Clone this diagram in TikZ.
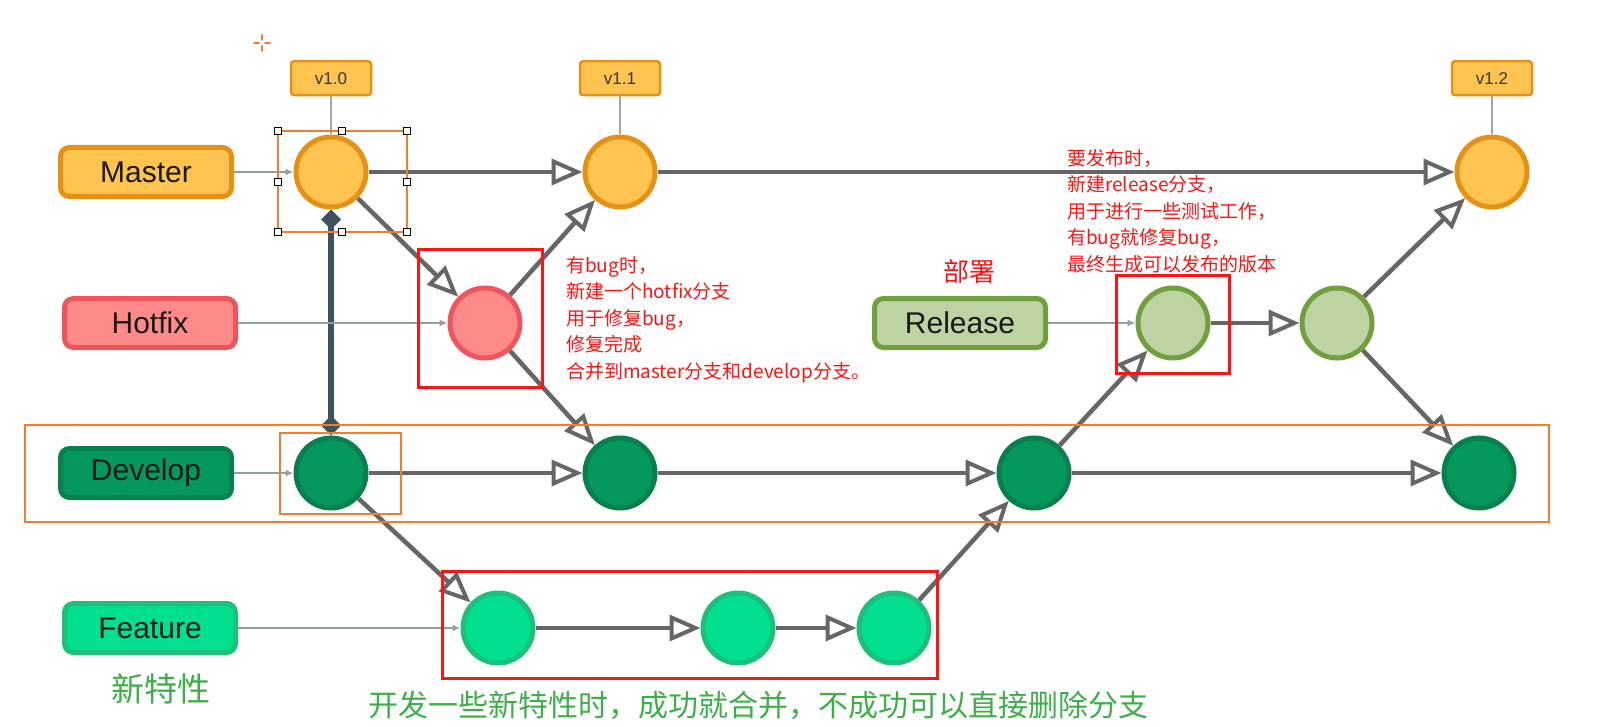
\documentclass[tikz,border=0pt]{standalone}
\usepackage{fontspec}
\setmainfont{Liberation Sans}
\newfontfamily\cjk{Noto Sans CJK SC}
\usepackage{tikz}
\usetikzlibrary{arrows.meta,positioning}

\definecolor{mfill}{RGB}{255,196,79}
\definecolor{mline}{RGB}{228,145,22}
\definecolor{hfill}{RGB}{255,138,138}
\definecolor{hline}{RGB}{240,84,92}
\definecolor{dfill}{RGB}{5,152,92}
\definecolor{dline}{RGB}{8,128,78}
\definecolor{ffill}{RGB}{0,224,142}
\definecolor{fline}{RGB}{28,192,122}
\definecolor{rfill}{RGB}{189,211,161}
\definecolor{rline}{RGB}{112,160,62}
\definecolor{arrgray}{RGB}{102,102,102}
\definecolor{feedgray}{RGB}{145,158,164}
\definecolor{slate}{RGB}{62,84,92}
\definecolor{selorange}{RGB}{240,125,50}
\definecolor{notered}{RGB}{255,20,20}
\definecolor{notegreen}{RGB}{60,175,70}

\begin{document}
\begin{tikzpicture}[x=1pt,y=-1pt,
lbl/.style={draw,rounded corners=9pt,line width=5pt,minimum width=171pt,minimum height=49pt,font=\fontsize{30}{30}\selectfont,text=black!90},
commit/.style={circle,draw,line width=5pt,minimum size=70pt,inner sep=0pt},
tag/.style={draw=mline,fill=mfill,rounded corners=3pt,line width=2.5pt,minimum width=80pt,minimum height=34pt,font=\fontsize{17}{17}\selectfont,text=black!80},
arr/.style={draw=arrgray,line width=4.5pt,-{Triangle[open,length=31pt,width=26pt,line width'=4pt]}},
feed/.style={draw=feedgray,line width=2pt,-{Latex[length=8pt,width=7pt]}},
tagline/.style={draw=black!35,line width=2.5pt},
note/.style={align=left,anchor=north west,inner sep=0pt,text=notered,font=\cjk\fontsize{19}{26.5}\selectfont},
redbox/.style={draw=notered,line width=3pt},
selbox/.style={draw=selorange,line width=2.5pt},
handle/.style={draw=black,fill=white,line width=1pt}]
\useasboundingbox[fill=white] (0,0) rectangle (1611,727);

% branch labels
\node[lbl,draw=mline,fill=mfill] (master) at (146,172) {Master};
\node[lbl,draw=hline,fill=hfill] (hotfix) at (150,323) {Hotfix};
\node[lbl,draw=dline,fill=dfill] (develop) at (146,473) {Develop};
\node[lbl,draw=fline,fill=ffill] (feature) at (150,628) {Feature};
\node[lbl,draw=rline,fill=rfill] (release) at (960,323) {Release};

% commits
\node[commit,draw=mline,fill=mfill] (m1) at (331,172) {};
\node[commit,draw=mline,fill=mfill] (m2) at (620,172) {};
\node[commit,draw=mline,fill=mfill] (m3) at (1492,172) {};
\node[commit,draw=hline,fill=hfill] (h1) at (485,323) {};
\node[commit,draw=dline,fill=dfill] (d1) at (331,473) {};
\node[commit,draw=dline,fill=dfill] (d2) at (620,473) {};
\node[commit,draw=dline,fill=dfill] (d3) at (1034,473) {};
\node[commit,draw=dline,fill=dfill] (d4) at (1479,473) {};
\node[commit,draw=fline,fill=ffill] (f1) at (498,628) {};
\node[commit,draw=fline,fill=ffill] (f2) at (738,628) {};
\node[commit,draw=fline,fill=ffill] (f3) at (894,628) {};
\node[commit,draw=rline,fill=rfill] (r1) at (1173,323) {};
\node[commit,draw=rline,fill=rfill] (r2) at (1337,323) {};

% version tags
\node[tag,above=38pt of m1] (v10) {v1.0};
\node[tag,above=38pt of m2] (v11) {v1.1};
\node[tag,above=38pt of m3] (v12) {v1.2};
\draw[tagline] (v10)--(m1);
\draw[tagline] (v11)--(m2);
\draw[tagline] (v12)--(m3);

\draw[slate,line width=5.5pt,{Diamond[length=20pt,width=20pt]}-{Diamond[length=20pt,width=20pt]}] (m1)--(d1);

\draw[feed] (master)--(m1);
\draw[feed] (hotfix)--(h1);
\draw[feed] (develop)--(d1);
\draw[feed] (feature)--(f1);
\draw[feed] (release)--(r1);

\draw[arr] (m1)--(m2);
\draw[arr] (m2)--(m3);
\draw[arr] (m1)--(h1);
\draw[arr] (h1)--(m2);
\draw[arr] (h1)--(d2);
\draw[arr] (d1)--(d2);
\draw[arr] (d2)--(d3);
\draw[arr] (d3)--(d4);
\draw[arr] (d1)--(f1);
\draw[arr] (f1)--(f2);
\draw[arr] (f2)--(f3);
\draw[arr] (f3)--(d3);
\draw[arr] (d3)--(r1);
\draw[arr] (r1)--(r2);
\draw[arr] (r2)--(m3);
\draw[arr] (r2)--(d4);

% selection marks
\draw[selbox] (25,425) rectangle (1549,522);
\draw[selbox] (280,433) rectangle (401,514);
\draw[selbox] (278,131) rectangle (407,232);
\foreach \hx/\hy in {278/131,342/131,407/131,278/182,407/182,278/232,342/232,407/232}
  \draw[handle] (\hx-3.5,\hy-3.5) rectangle +(7,7);
\draw[selorange,line width=2pt,line cap=round] (262,35)--(262,40) (262,46)--(262,51) (254,43)--(259,43) (265,43)--(270,43);

% red boxes
\draw[redbox] (418,250) rectangle (542,387);
\draw[redbox] (1116,276) rectangle (1229,373);
\draw[redbox] (442,571) rectangle (937,678);

% notes
\node[note] (hnote) at (566,256) {有bug时，\\新建一个hotfix分支\\用于修复bug，\\修复完成\\合并到master分支和develop分支。};
\node[note] (rnote) at (1067,149) {要发布时，\\新建release分支，\\用于进行一些测试工作，\\有bug就修复bug，\\最终生成可以发布的版本};
\node[text=notered,font=\cjk\fontsize{26}{26}\selectfont] (deploy) at (969,272) {部署};
\node[text=notegreen,font=\cjk\fontsize{33}{33}\selectfont] (newfeat) at (161,689) {新特性};
\node[text=notegreen,font=\cjk\fontsize{30}{30}\selectfont] (fnote) at (758,705) {开发一些新特性时，成功就合并，不成功可以直接删除分支};
\end{tikzpicture}
\end{document}
